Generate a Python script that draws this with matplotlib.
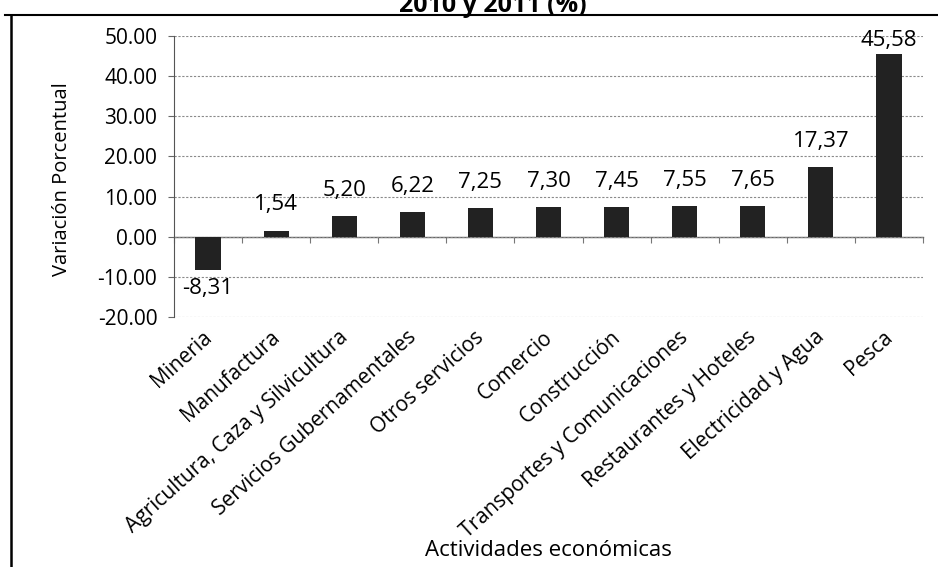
import matplotlib
matplotlib.use("Agg")
import matplotlib.pyplot as plt
import matplotlib.transforms as mtransforms
from matplotlib.lines import Line2D

categories = ["Mineria", "Manufactura", "Agricultura, Caza y Silvicultura",
              "Servicios Gubernamentales", "Otros servicios", "Comercio",
              "Construcción", "Transportes y Comunicaciones",
              "Restaurantes y Hoteles", "Electricidad y Agua", "Pesca"]
values = [-8.31, 1.54, 5.20, 6.22, 7.25, 7.30, 7.45, 7.55, 7.65, 17.37, 45.58]
yticks = [-20, -10, 0, 10, 20, 30, 40, 50]

plt.rcParams['font.family'] = ['Open Sans', 'DejaVu Sans']

fig = plt.figure(figsize=(9.38, 5.67), dpi=100)
W, H = 938, 567
ax = fig.add_axes([174 / W, 1 - 317 / H, (923 - 174) / W, (317 - 36) / H])

x = list(range(len(categories)))
ax.bar(x, values, width=0.37, color='#222222', zorder=3)
ax.set_xlim(-0.5, len(categories) - 0.5)
ax.set_ylim(-20, 50)
ax.set_yticks(yticks)
ax.set_yticklabels([f"{v:.2f}" for v in yticks], fontsize=15)
ax.set_xticks(x)
ax.set_xticklabels(categories, rotation=42, ha='right', rotation_mode='anchor', fontsize=15)
ax.tick_params(axis='x', length=0, pad=7)
ax.tick_params(axis='y', length=4, color='#666666', pad=8)
shift = mtransforms.ScaledTranslation(-6 / 100, 0, fig.dpi_scale_trans)
for lab in ax.get_xticklabels():
    lab.set_transform(lab.get_transform() + shift)
ax.grid(axis='y', linestyle=(0, (2, 1.5)), color='#8a8a8a', linewidth=0.8, zorder=0)
for s in ['top', 'right', 'bottom']:
    ax.spines[s].set_visible(False)
ax.spines['left'].set_color('#555555')
ax.spines['left'].set_linestyle((0, (3, 1)))

# category axis at zero with boundary tick marks
sec = ax.secondary_xaxis(20 / 70)
sec.set_xticks([i - 0.5 for i in range(len(categories) + 1)])
sec.set_xticklabels([])
sec.tick_params(axis='x', length=4, color='#777777', direction='out')
sec.spines['bottom'].set_color('#666666')
sec.spines['bottom'].set_linewidth(1.0)

for xi, v in zip(x, values):
    lbl = f"{v:.2f}".replace('.', ',')
    if v < 0:
        ax.text(xi, v - 2.0, lbl, ha='center', va='top', fontsize=16)
    else:
        ax.text(xi, min(v + 5.0, 47.6), lbl, ha='center', va='baseline', fontsize=16)

ax.set_ylabel("Variación Porcentual", fontsize=14.5)
ax.yaxis.set_label_coords((72 - 174) / (923 - 174), 0.49)
ax.set_xlabel("Actividades económicas", fontsize=16)
ax.xaxis.set_label_coords(0.5, -(550 - 317) / (317 - 36))
ax.xaxis.label.set_va('center')
fig.text(493 / W, 1 - 12 / H, "2010 y 2011 (%)", ha='center', va='baseline', fontsize=18, fontweight='bold')

# chart frame
fig.add_artist(Line2D([5 / W, 1], [1 - 15 / H, 1 - 15 / H], transform=fig.transFigure, color='black', linewidth=1.5))
fig.add_artist(Line2D([11 / W, 11 / W], [0, 1 - 15 / H], transform=fig.transFigure, color='black', linewidth=1.8))

fig.savefig("out.png", dpi=100)
